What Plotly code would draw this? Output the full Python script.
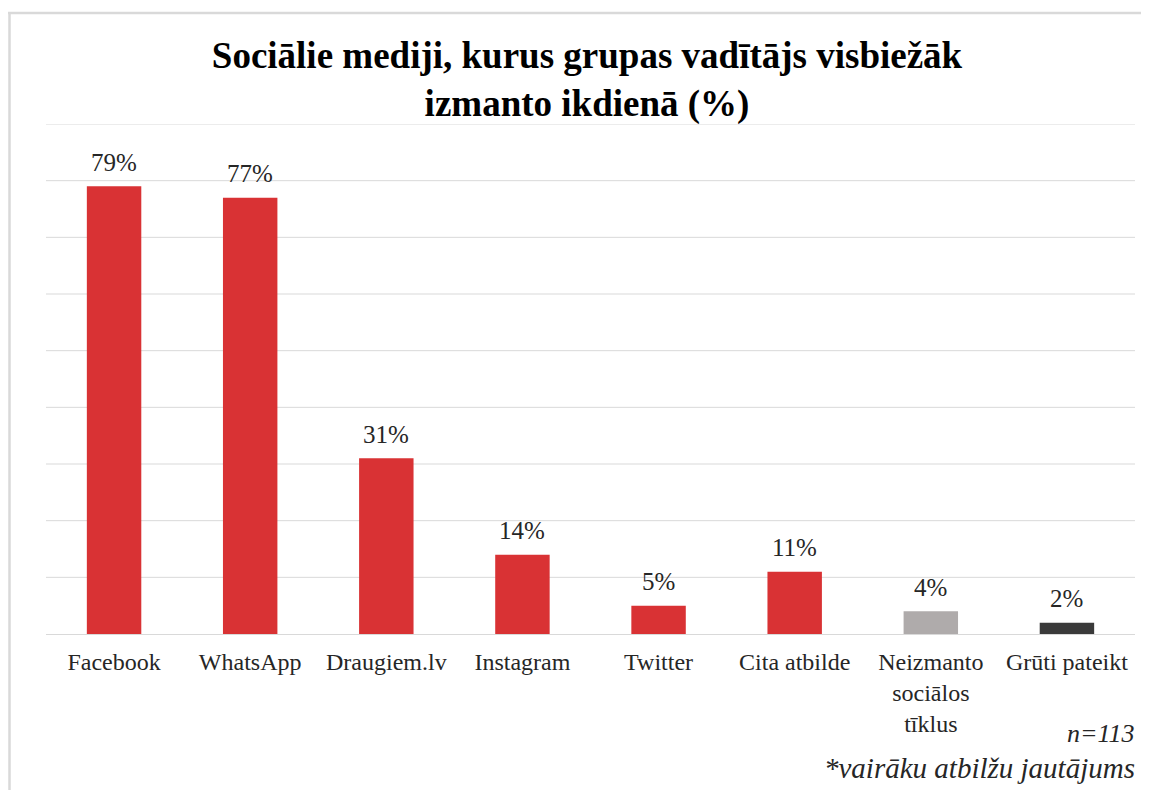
import plotly.graph_objects as go

categories = ["Facebook", "WhatsApp", "Draugiem.lv", "Instagram", "Twitter",
              "Cita atbilde", "Neizmanto<br>sociālos<br>tīklus", "Grūti pateikt"]
values = [79, 77, 31, 14, 5, 11, 4, 2]
labels = ["79%", "77%", "31%", "14%", "5%", "11%", "4%", "2%"]
colors = ["#D93234"] * 6 + ["#AFABAB", "#3A3A3A"]
grid_values = [10, 20, 30, 40, 50, 60, 70, 80, 90]

# page body has an 8px margin, so figure coords = window coords - 8
W, H = 1133, 782
L, R, T, B = 38, 6, 116, 156
pw, ph = W - L - R, H - T - B

SERIF = "Liberation Serif, Times New Roman, serif"

fig = go.Figure(go.Bar(
    x=categories, y=values,
    marker=dict(color=colors, line=dict(width=0)),
    cliponaxis=False, width=0.4, hoverinfo="x+y",
))

def px_x(x):
    return (x - L) / pw

def px_y(y):
    return (H - B - y) / ph

annotations = [
    dict(x=c, y=v, text=t, xref="x", yref="y", showarrow=False,
         yanchor="middle", yshift=24,
         font=dict(family=SERIF, size=25, color="#262626"))
    for c, v, t in zip(categories, values, labels)
]
annotations += [
    dict(text="<i>n=113</i>", xref="paper", yref="paper",
         x=px_x(1129), y=px_y(725), xanchor="right", yanchor="middle",
         showarrow=False, font=dict(family=SERIF, size=26, color="#262626")),
    dict(text="<i>*vairāku atbilžu jautājums</i>", xref="paper", yref="paper",
         x=px_x(1129), y=px_y(760), xanchor="right", yanchor="middle",
         showarrow=False, font=dict(family=SERIF, size=29, color="#262626")),
]

shapes = [
    dict(type="line", xref="paper", yref="y", x0=0, x1=1, y0=g, y1=g,
         layer="below", line=dict(color="#D9D9D9", width=1))
    for g in grid_values
]
shapes += [
    dict(type="line", xref="paper", yref="paper",
         x0=px_x(0), x1=px_x(W + 5), y0=px_y(5), y1=px_y(5),
         line=dict(color="#D9D9D9", width=2.5)),
    dict(type="line", xref="paper", yref="paper",
         x0=px_x(1.5), x1=px_x(1.5), y0=px_y(5), y1=px_y(H + 5),
         line=dict(color="#D9D9D9", width=2.5)),
]

fig.update_layout(
    width=W, height=H,
    margin=dict(l=L, r=R, t=T, b=B),
    paper_bgcolor="white", plot_bgcolor="white",
    showlegend=False,
    title=dict(
        text="<b>Sociālie mediji, kurus grupas vadītājs visbiežāk<br>izmanto ikdienā (%)</b>",
        x=(579) / W, xanchor="center", y=1 - 60 / H, yanchor="middle", yref="container",
        font=dict(family=SERIF, size=37, color="black"),
    ),
    xaxis=dict(
        showgrid=False, showline=False, ticks="", ticklabelstandoff=11,
        tickfont=dict(family=SERIF, size=24, color="#262626"),
    ),
    yaxis=dict(
        range=[0, 90], showgrid=False, showticklabels=False, ticks="",
        zeroline=True, zerolinecolor="#D9D9D9", zerolinewidth=1, showline=False,
    ),
    shapes=shapes,
    annotations=annotations,
)

fig.write_html("out.html")
